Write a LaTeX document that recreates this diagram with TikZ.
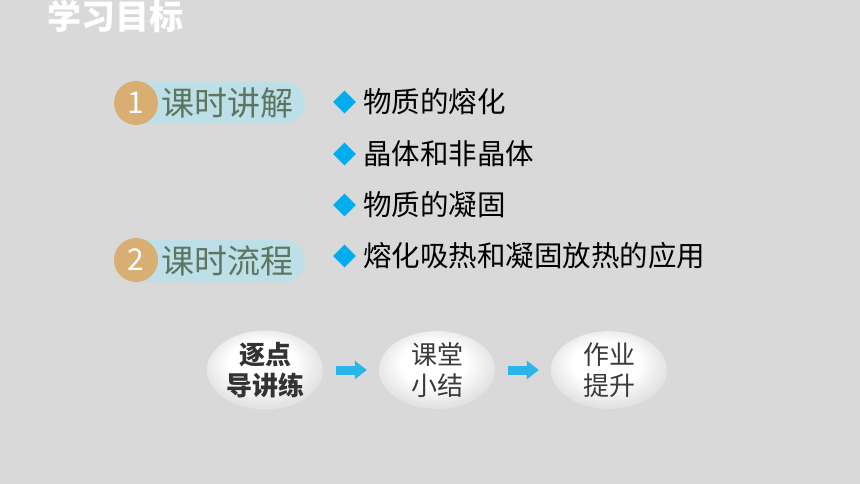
\documentclass[tikz,border=0pt]{standalone}
\usepackage{fontspec}
\setmainfont{Noto Sans CJK SC}
\usetikzlibrary{arrows.meta,shapes.geometric}
\definecolor{bg}{HTML}{D9D9D9}
\definecolor{tan}{HTML}{D8AE72}
\definecolor{pillc}{HTML}{BDE0E8}
\definecolor{pilltext}{HTML}{5E7560}
\definecolor{cyanb}{HTML}{00AEEF}
\definecolor{arrowc}{HTML}{2AB5EA}
\definecolor{ink}{HTML}{3A3A3A}
\pgfdeclareradialshading{bubshade}{\pgfpoint{-2bp}{6bp}}{color(0bp)=(white); color(14bp)=(white); color(26bp)=(black!11); color(50bp)=(black!11)}
\tikzset{
  pill/.style={fill=pillc, rounded corners=21pt, minimum width=185pt, minimum height=42pt, inner sep=0pt},
  badge/.style={circle, fill=tan, minimum size=44pt, inner sep=0pt, text=white, font=\fontsize{30}{30}\selectfont},
  pilllabel/.style={anchor=west, inner sep=0pt, text=pilltext, font=\fontsize{33}{33}\selectfont},
  bulletmark/.style={diamond, fill=cyanb, minimum size=23pt, inner sep=0pt},
  itemtext/.style={anchor=west, inner sep=0pt, text=black, font=\fontsize{28.5}{28.5}\selectfont},
  bubble/.style={ellipse, shading=bubshade, minimum width=116pt, minimum height=76pt, inner sep=0pt, align=center, text=ink, font=\fontsize{26}{31}\selectfont},
  flowarrow/.style={draw=arrowc, line width=9pt, -{Triangle[length=12pt,width=18pt]}, shorten <=13pt, shorten >=12pt}
}
\begin{document}
\begin{tikzpicture}[x=1pt,y=-1pt]
\fill[bg] (0,0) rectangle (860,484);
\useasboundingbox (0,0) rectangle (860,484);
\node[anchor=west, inner sep=0pt, text=white, font=\bfseries\fontsize{34}{34}\selectfont] (title) at (47,16) {学习目标};
% badges
\node[pill] (p1) at (212.5,103) {};
\node[badge] (b1) at (136,103) {1};
\node[pilllabel] (l1) at (161,103) {课时讲解};
\node[pill] (p2) at (212.5,261) {};
\node[badge] (b2) at (136,260) {2};
\node[pilllabel] (l2) at (161,261) {课时流程};
% bullet items
\node[bulletmark] (d1) at (344.5,102) {};
\node[itemtext] (t1) at (363,102) {物质的熔化};
\node[bulletmark] (d2) at (344.5,154) {};
\node[itemtext] (t2) at (363,154) {晶体和非晶体};
\node[bulletmark] (d3) at (344.5,205) {};
\node[itemtext] (t3) at (363,205) {物质的凝固};
\node[bulletmark] (d4) at (344.5,256) {};
\node[itemtext] (t4) at (363,256) {熔化吸热和凝固放热的应用};
% flow
\node[bubble, font=\bfseries\fontsize{26}{31}\selectfont, text=black!80] (e1) at (265,370) {逐点\\导讲练};
\node[bubble] (e2) at (437,370) {课堂\\小结};
\node[bubble] (e3) at (609,370) {作业\\提升};
\draw[flowarrow] (e1.east) -- (e2.west);
\draw[flowarrow] (e2.east) -- (e3.west);
\end{tikzpicture}
\end{document}
